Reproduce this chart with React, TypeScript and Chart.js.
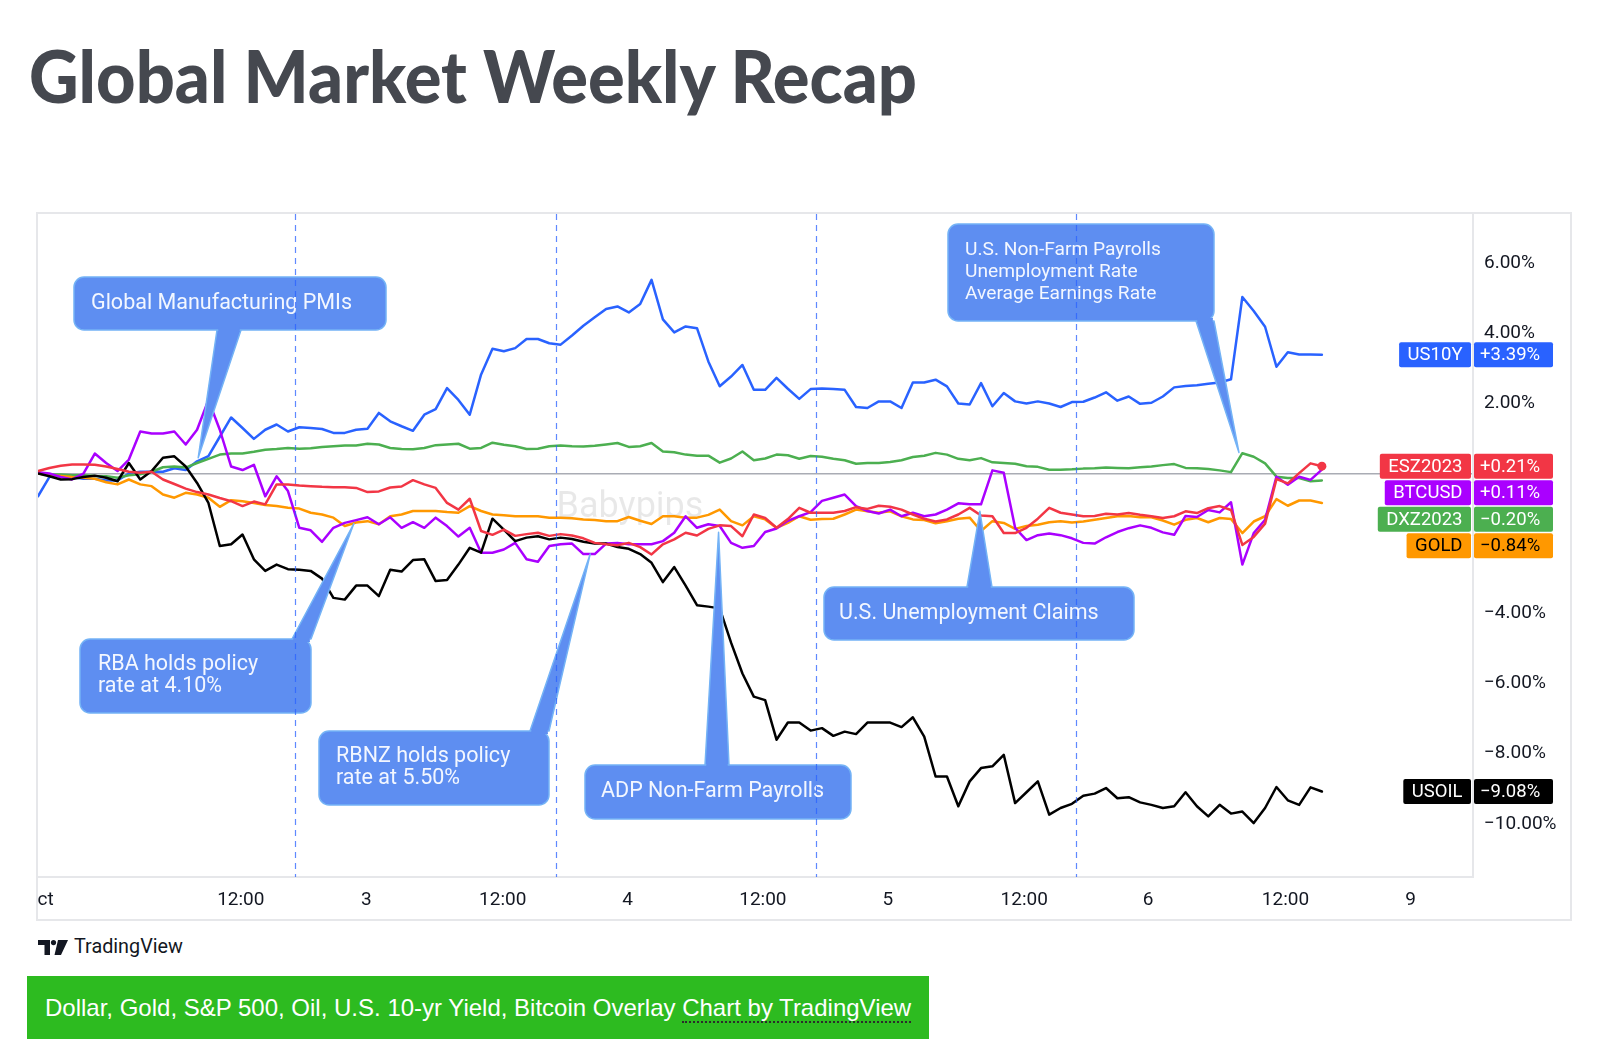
import React, { useEffect, useRef } from 'react';
import { Chart, registerables } from 'chart.js';

Chart.register(...registerables);

// ---------- DATA (percent change, one value per hourly bar) ----------
const us10y = [
  -0.65, -0.1, -0.05, -0.1, -0.15, -0.15, -0.2, -0.2, 0.0, 0.05,
  0.05, 0.05, 0.15, 0.1, 0.35, 0.5, 1.05, 1.6, 1.3, 0.99,
  1.25, 1.4, 1.2, 1.32, 1.3, 1.27, 1.16, 1.16, 1.25, 1.28,
  1.73, 1.49, 1.35, 1.22, 1.68, 1.84, 2.44, 2.1, 1.68, 2.83,
  3.56, 3.49, 3.58, 3.84, 3.84, 3.72, 3.68, 3.94, 4.22, 4.46,
  4.7, 4.77, 4.6, 4.84, 5.53, 4.4, 4.03, 4.2, 4.15, 3.2,
  2.49, 2.77, 3.1, 2.39, 2.39, 2.73, 2.42, 2.13, 2.41, 2.43,
  2.41, 2.39, 1.9, 1.87, 2.06, 2.06, 1.87, 2.6, 2.6, 2.68,
  2.49, 2.0, 1.97, 2.58, 1.92, 2.3, 2.06, 2.0, 2.06, 2.0,
  1.9, 2.04, 2.05, 2.17, 2.32, 2.08, 2.2, 1.99, 2.02, 2.2,
  2.46, 2.5, 2.52, 2.56, 2.6, 2.69, 5.04, 4.64, 4.19, 3.05,
  3.46, 3.4, 3.4, 3.39,
];
const dxz2023 = [
  0, -0.02, -0.03, -0.05, -0.05, -0.07, -0.08, -0.12, -0.05, -0.02,
  0.05, 0.18, 0.2, 0.17, 0.3, 0.42, 0.54, 0.57, 0.57, 0.62,
  0.68, 0.7, 0.73, 0.71, 0.72, 0.76, 0.78, 0.8, 0.8, 0.85,
  0.83, 0.73, 0.7, 0.69, 0.73, 0.81, 0.83, 0.85, 0.71, 0.73,
  0.88, 0.82, 0.78, 0.7, 0.71, 0.78, 0.8, 0.78, 0.77, 0.79,
  0.83, 0.87, 0.76, 0.78, 0.87, 0.63, 0.61, 0.54, 0.51, 0.51,
  0.31, 0.43, 0.63, 0.38, 0.43, 0.54, 0.52, 0.42, 0.5, 0.48,
  0.42, 0.38, 0.28, 0.3, 0.3, 0.33, 0.38, 0.47, 0.51, 0.59,
  0.54, 0.42, 0.38, 0.44, 0.32, 0.3, 0.28, 0.21, 0.19, 0.11,
  0.11, 0.12, 0.14, 0.15, 0.17, 0.16, 0.15, 0.18, 0.2, 0.24,
  0.27, 0.16, 0.15, 0.13, 0.09, 0.04, 0.58, 0.48, 0.29, -0.09,
  -0.13, -0.13, -0.22, -0.2,
];
const esz2023 = [
  0.07, 0.16, 0.22, 0.26, 0.26, 0.25, 0.2, 0.13, 0.05, 0.02,
  0.05, -0.17, -0.3, -0.43, -0.53, -0.6, -0.7, -0.79, -0.93, -0.8,
  -0.88, -0.31, -0.31, -0.34, -0.36, -0.38, -0.39, -0.39, -0.41, -0.53,
  -0.51, -0.4, -0.37, -0.19, -0.31, -0.41, -0.84, -1.03, -0.72, -1.64,
  -1.75, -1.6, -1.78, -1.73, -1.69, -1.78, -1.73, -1.77, -1.85, -1.98,
  -2.02, -2.05, -1.98, -2.1, -2.31, -2.02, -1.88, -1.69, -1.77, -1.58,
  -1.48, -1.5, -1.79, -1.17, -1.27, -1.55, -1.3, -0.98, -1.12, -1.12,
  -1.12, -1.07, -0.96, -1.01, -0.92, -0.95, -1.03, -1.17, -1.29, -1.37,
  -1.31, -1.17, -0.98, -1.2, -1.22, -1.7, -1.7, -1.55, -1.29, -0.98,
  -1.12, -1.17, -1.22, -1.21, -1.15, -1.17, -1.13, -1.18, -1.22, -1.27,
  -1.22, -1.08, -1.13, -0.99, -0.93, -1.04, -2.04, -1.81, -1.43, -0.16,
  -0.28, 0.01, 0.29, 0.21,
];
const gold = [
  0, -0.05, -0.07, -0.1, -0.12, -0.15, -0.25, -0.31, -0.17, -0.31,
  -0.36, -0.6, -0.69, -0.55, -0.6, -0.69, -0.95, -0.76, -0.79, -0.84,
  -0.9, -0.93, -0.98, -1.0, -1.12, -1.17, -1.26, -1.5, -1.4, -1.36,
  -1.45, -1.22, -1.17, -1.07, -1.07, -1.07, -1.1, -1.12, -0.93, -1.07,
  -1.17, -1.19, -1.22, -1.22, -1.22, -1.26, -1.26, -1.28, -1.31, -1.33,
  -1.36, -1.36, -1.24, -1.35, -1.44, -1.22, -1.22, -1.26, -1.26, -1.18,
  -1.03, -1.36, -1.48, -1.22, -1.31, -1.55, -1.41, -1.22, -1.32, -1.3,
  -1.29, -1.17, -1.03, -1.08, -1.12, -1.08, -1.22, -1.31, -1.33, -1.42,
  -1.36, -1.29, -1.26, -1.64, -1.36, -1.41, -1.58, -1.5, -1.46, -1.39,
  -1.36, -1.4, -1.37, -1.32, -1.27, -1.22, -1.21, -1.25, -1.25, -1.34,
  -1.46, -1.32, -1.27, -1.39, -1.27, -1.3, -1.7, -1.37, -1.22, -0.73,
  -0.92, -0.77, -0.77, -0.84,
];
const btcusd = [
  0.04, 0, -0.1, -0.17, 0.0, 0.57, 0.3, 0.07, 0.4, 1.2,
  1.14, 1.14, 1.2, 0.83, 1.25, 2.1, 1.25, 0.2, 0.1, 0.25,
  -0.65, -0.08, -0.5, -1.55, -1.62, -1.95, -1.55, -1.41, -1.33, -1.25,
  -1.45, -1.25, -1.55, -1.39, -1.55, -1.26, -1.5, -1.8, -1.55, -2.26,
  -2.26, -2.17, -1.98, -2.45, -2.52, -2.07, -2.02, -2.0, -2.3, -2.3,
  -2.0, -1.98, -2.02, -2.02, -2.02, -1.93, -1.69, -1.22, -1.55, -1.45,
  -1.5, -1.98, -2.12, -2.07, -1.67, -1.57, -1.35, -1.22, -1.1, -0.78,
  -0.69, -0.6, -0.93, -1.07, -1.14, -1.03, -1.22, -1.12, -1.22, -1.17,
  -1.03, -0.85, -0.88, -0.88, 0.09, 0.02, -1.55, -1.9, -1.76, -1.71,
  -1.76, -1.85, -1.98, -2.0, -1.82, -1.67, -1.56, -1.48, -1.55, -1.68,
  -1.75, -1.21, -1.24, -1.04, -1.11, -0.82, -2.6, -1.7, -1.32, -0.09,
  -0.32, -0.09, -0.18, 0.11,
];
const usoil = [
  0, -0.08, -0.17, -0.16, -0.1, -0.06, -0.12, -0.22, 0.3, -0.17,
  0.07, 0.45, 0.49, 0.2, -0.27, -0.84, -2.07, -2.02, -1.74, -2.45,
  -2.78, -2.6, -2.73, -2.75, -2.78, -3.0, -3.55, -3.6, -3.2, -3.2,
  -3.5, -2.75, -2.8, -2.47, -2.45, -3.07, -3.04, -2.6, -2.12, -2.26,
  -1.29, -1.6, -1.93, -1.83, -1.79, -1.88, -1.83, -1.87, -1.95, -2.0,
  -2.0, -2.1, -2.15, -2.3, -2.55, -3.1, -2.67, -3.2, -3.76, -3.8,
  -3.85, -4.83, -5.71, -6.37, -6.47, -7.6, -7.11, -7.11, -7.34, -7.27,
  -7.49, -7.37, -7.44, -7.11, -7.11, -7.11, -7.24, -6.96, -7.51, -8.65,
  -8.65, -9.5, -8.79, -8.41, -8.36, -8.03, -9.41, -9.1, -8.79, -9.74,
  -9.55, -9.43, -9.2, -9.14, -8.98, -9.27, -9.24, -9.39, -9.46, -9.55,
  -9.5, -9.1, -9.5, -9.79, -9.46, -9.71, -9.65, -9.98, -9.55, -8.95,
  -9.33, -9.46, -8.96, -9.08,
];

// x-axis ticks (bar-index positions) and their labels
const xTickPositions = [0.1, 17.85, 28.9, 40.9, 51.9, 63.8, 74.8, 86.8, 97.7, 109.8, 120.8];
const xTickLabels = ['Oct', '12:00', '3', '12:00', '4', '12:00', '5', '12:00', '6', '12:00', '9'];
// y-axis tick values (%)
const yTickValues = [-10, -8, -6, -4, -2, 0, 2, 4, 6];
// dashed event markers (bar-index positions)
const eventLines = [22.6, 45.6, 68.5, 91.4];

const seriesNames = ['ESZ2023', 'USOIL', 'BTCUSD', 'GOLD', 'DXZ2023', 'US10Y'];
const seriesValues = [esz2023, usoil, btcusd, gold, dxz2023, us10y];
const seriesColors = ['#f23645', '#000000', '#aa00ff', '#ff9800', '#4caf50', '#2962ff'];
const seriesTextColors = ['#ffffff', '#ffffff', '#ffffff', '#000000', '#ffffff', '#ffffff'];

// ---------- STYLE / LAYOUT ----------
const FONT = 'Roboto, "Noto Sans", sans-serif';
const OFFX = 30; // canvas offset on page
const OFFY = 205;
const CW = 1550;
const CH = 725;

const callouts = [
  { lines: ['Global Manufacturing PMIs'], box: [74, 277, 386, 330], base: [217, 241], tip: [14.1, 0.45], textX: 91, size: 21.5, lh: 22 },
  { lines: ['RBA holds policy', 'rate at 4.10%'], box: [80, 639, 311, 713], base: [292, 311], tip: [27.8, -1.43], textX: 98, size: 21.5, lh: 22 },
  { lines: ['RBNZ holds policy', 'rate at 5.50%'], box: [319, 731, 549, 805], base: [530, 549], tip: [48.6, -2.3], textX: 336, size: 21.5, lh: 22 },
  { lines: ['ADP Non-Farm Payrolls'], box: [585, 765, 851, 819], base: [705, 729], tip: [59.9, -1.68], textX: 601, size: 21.5, lh: 22 },
  { lines: ['U.S. Unemployment Claims'], box: [824, 587, 1134, 640], base: [967, 992], tip: [82.9, -1.08], textX: 839, size: 21.5, lh: 22 },
  { lines: ['U.S. Non-Farm Payrolls', 'Unemployment Rate', 'Average Earnings Rate'], box: [948, 224, 1214, 321], base: [1196, 1214], tip: [105.7, 0.6], textX: 965, size: 19.2, lh: 22 },
];

function rr(ctx: CanvasRenderingContext2D, x: number, y: number, w: number, h: number, r: number) {
  ctx.beginPath();
  ctx.moveTo(x + r, y);
  ctx.lineTo(x + w - r, y);
  ctx.arcTo(x + w, y, x + w, y + r, r);
  ctx.lineTo(x + w, y + h - r);
  ctx.arcTo(x + w, y + h, x + w - r, y + h, r);
  ctx.lineTo(x + r, y + h);
  ctx.arcTo(x, y + h, x, y + h - r, r);
  ctx.lineTo(x, y + r);
  ctx.arcTo(x, y, x + r, y, r);
  ctx.closePath();
}

function fmtPct(v: number) {
  const s = Math.abs(v).toFixed(2) + '%';
  return (v >= 0 ? '+' : '\u2212') + s;
}

const overlayPlugin = {
  id: 'overlay',
  beforeDatasetsDraw(chart: any) {
    const ctx = chart.ctx as CanvasRenderingContext2D;
    ctx.save();
    ctx.font = `36px ${FONT}`;
    ctx.fillStyle = 'rgba(0,0,0,0.09)';
    ctx.textAlign = 'center';
    ctx.textBaseline = 'middle';
    ctx.fillText('Babypips', 630 - OFFX, 508 - OFFY);
    ctx.restore();
  },
  afterDatasetsDraw(chart: any) {
    const ctx = chart.ctx as CanvasRenderingContext2D;
    const xs = chart.scales.x;
    const ys = chart.scales.y;
    const area = chart.chartArea;
    const FILL = '#5e8ef1';
    const EDGE = '#74b3f6';
    for (const c of callouts) {
      const x1 = c.box[0] - OFFX, y1 = c.box[1] - OFFY, x2 = c.box[2] - OFFX, y2 = c.box[3] - OFFY;
      const tx = xs.getPixelForValue(c.tip[0]);
      const ty = ys.getPixelForValue(c.tip[1]);
      const by = ty < y1 ? y1 : y2;
      const b1 = c.base[0] - OFFX, b2 = c.base[1] - OFFX;
      ctx.save();
      ctx.fillStyle = FILL;
      ctx.strokeStyle = EDGE;
      ctx.lineWidth = 1.5;
      ctx.lineJoin = 'round';
      ctx.beginPath();
      ctx.moveTo(b1, by);
      ctx.lineTo(tx, ty);
      ctx.lineTo(b2, by);
      ctx.closePath();
      ctx.fill();
      ctx.stroke();
      rr(ctx, x1, y1, x2 - x1, y2 - y1, 10);
      ctx.fill();
      ctx.stroke();
      // merge pointer and box
      ctx.beginPath();
      const d = by === y1 ? -1 : 1;
      ctx.moveTo(b1 + 1, by - d * 3);
      ctx.lineTo(b2 - 1, by - d * 3);
      ctx.lineTo(b2 - 1 - 0.5, by + d * 2);
      ctx.lineTo(b1 + 1 + 0.5, by + d * 2);
      ctx.closePath();
      ctx.fill();
      ctx.fillStyle = '#f3f7ff';
      ctx.font = `${c.size}px ${FONT}`;
      ctx.textAlign = 'left';
      ctx.textBaseline = 'middle';
      const cy = (y1 + y2) / 2;
      const n = c.lines.length;
      c.lines.forEach((ln, k) => {
        ctx.fillText(ln, c.textX - OFFX, cy + (k - (n - 1) / 2) * c.lh);
      });
      ctx.restore();
    }
    // dashed event lines
    ctx.save();
    ctx.strokeStyle = 'rgba(41,98,255,0.75)';
    ctx.lineWidth = 1.2;
    ctx.setLineDash([6, 5]);
    for (const v of eventLines) {
      const x = Math.round(xs.getPixelForValue(v)) + 0.5;
      ctx.beginPath();
      ctx.moveTo(x, area.top);
      ctx.lineTo(x, area.bottom);
      ctx.stroke();
    }
    ctx.restore();
  },
  afterDraw(chart: any) {
    const ctx = chart.ctx as CanvasRenderingContext2D;
    const ys = chart.scales.y;
    // clip the first x label at the frame edge
    ctx.save();
    ctx.fillStyle = '#ffffff';
    ctx.fillRect(0, 0, 37 - OFFX, CH);
    // frame
    ctx.strokeStyle = '#e6e7ea';
    ctx.lineWidth = 2;
    ctx.strokeRect(37 - OFFX, 213 - OFFY, 1571 - 37, 920 - 213);
    ctx.restore();

    // series last-value labels
    const items = seriesNames.map((name, k) => ({
      name,
      last: seriesValues[k][seriesValues[k].length - 1],
      color: seriesColors[k],
      text: seriesTextColors[k],
    })).sort((a, b) => b.last - a.last);
    const H = 25;
    const PITCH = 26.5;
    let prev = -Infinity;
    ctx.save();
    ctx.font = `18.5px ${FONT}`;
    ctx.textBaseline = 'middle';
    for (const it of items) {
      let y = ys.getPixelForValue(it.last);
      if (y < prev + PITCH) y = prev + PITCH;
      prev = y;
      const vx1 = 1474 - OFFX, vx2 = 1553 - OFFX, nr = 1471 - OFFX;
      ctx.fillStyle = it.color;
      rr(ctx, vx1, y - H / 2, vx2 - vx1, H, 2);
      ctx.fill();
      const tw = ctx.measureText(it.name).width;
      const nw = tw + 17;
      rr(ctx, nr - nw, y - H / 2, nw, H, 2);
      ctx.fill();
      ctx.fillStyle = it.text;
      ctx.textAlign = 'right';
      ctx.fillText(it.name, nr - 8.5, y + 1);
      ctx.textAlign = 'left';
      ctx.fillText(fmtPct(it.last), 1480 - OFFX, y + 1);
    }
    ctx.restore();
  },
};

function TVLogo() {
  return (
    <svg width="30" height="15" viewBox="0 0 30 15" style={{ position: 'absolute', left: 38, top: 940 }}>
      <path d="M0 0 H12 V15 H6.5 V5 H0 Z" fill="#131722" />
      <circle cx="15.5" cy="2.6" r="2.6" fill="#131722" />
      <path d="M20 0 H30 L23 15 H16.5 Z" fill="#131722" />
    </svg>
  );
}

export default function App() {
  const ref = useRef<HTMLCanvasElement | null>(null);

  useEffect(() => {
    if (!ref.current) return;
    const datasets = seriesNames.map((name, k) => {
      const vals = seriesValues[k];
      const last = vals.length - 1;
      return {
        label: name,
        data: vals.map((v, i) => ({ x: i, y: v })),
        borderColor: seriesColors[k],
        backgroundColor: seriesColors[k],
        borderWidth: 2.5,
        tension: 0,
        borderJoinStyle: 'round' as const,
        borderCapStyle: 'round' as const,
        pointRadius: name === 'ESZ2023' ? vals.map((_, i) => (i === last ? 4.5 : 0)) : 0,
        pointBorderWidth: 0,
        pointBackgroundColor: seriesColors[k],
        fill: false,
      };
    });

    const chart = new Chart(ref.current, {
      type: 'line',
      data: { datasets },
      plugins: [overlayPlugin],
      options: {
        responsive: false,
        maintainAspectRatio: false,
        animation: false,
        devicePixelRatio: 1,
        parsing: false as any,
        layout: { padding: { left: 8, top: 9, right: 9, bottom: 10 } },
        plugins: { legend: { display: false }, tooltip: { enabled: false } },
        scales: {
          x: {
            type: 'linear',
            min: 0,
            max: 126.3,
            grid: { display: false, drawTicks: false },
            border: { display: true, color: '#e6e7ea', width: 2 },
            afterBuildTicks: (s: any) => {
              s.ticks = xTickPositions.map((v) => ({ value: v }));
            },
            afterFit: (s: any) => {
              s.height = 43;
              s.paddingLeft = 0;
              s.paddingRight = 0;
            },
            ticks: {
              autoSkip: false,
              maxRotation: 0,
              minRotation: 0,
              padding: 12,
              color: '#131722',
              font: { family: FONT, size: 19 },
              callback: (_v: any, i: number) => xTickLabels[i] ?? '',
            },
          },
          y: {
            type: 'linear',
            position: 'right',
            min: -11.52,
            max: 7.41,
            border: { display: true, color: '#e6e7ea', width: 2 },
            grid: {
              drawTicks: false,
              color: (c: any) => (c.tick && c.tick.value === 0 ? '#a9acb4' : 'rgba(0,0,0,0)'),
              lineWidth: 1.5,
            },
            afterBuildTicks: (s: any) => {
              s.ticks = yTickValues.map((v) => ({ value: v }));
            },
            afterFit: (s: any) => {
              s.width = 98;
              s.paddingTop = 0;
              s.paddingBottom = 0;
            },
            ticks: {
              padding: 11,
              color: '#131722',
              font: { family: FONT, size: 19 },
              callback: (v: any) => {
                const n = Number(v);
                return (n < 0 ? '\u2212' : '') + Math.abs(n).toFixed(2) + '%';
              },
            },
          },
        },
      } as any,
    });
    return () => chart.destroy();
  }, []);

  return (
    <div style={{ position: 'absolute', left: 0, top: 0, width: 1615, height: 1056, background: '#ffffff', overflow: 'hidden' }}>
      <svg width="1615" height="130" style={{ position: 'absolute', left: 0, top: 0 }}>
        <text x="29" y="103" fontFamily="Lato, 'Open Sans', sans-serif" fontWeight="900" fontSize="72" fill="#45484f" textLength="888" lengthAdjust="spacingAndGlyphs">
          Global Market Weekly Recap
        </text>
      </svg>
      <canvas ref={ref} width={CW} height={CH} style={{ position: 'absolute', left: OFFX, top: OFFY, width: CW, height: CH }} />
      <TVLogo />
      <div style={{ position: 'absolute', left: 74, top: 935, fontFamily: FONT, fontSize: 19.8, color: '#131722', lineHeight: '24px' }}>
        TradingView
      </div>
      <div style={{ position: 'absolute', left: 27, top: 976, width: 902, height: 63, background: '#2dbb20', display: 'flex', alignItems: 'center' }}>
        <span style={{ marginLeft: 18, fontFamily: '"Liberation Sans", Arial, sans-serif', fontSize: 24, color: '#ffffff', whiteSpace: 'nowrap' }}>
          Dollar, Gold, S&amp;P 500, Oil, U.S. 10-yr Yield, Bitcoin Overlay{' '}
          <span style={{ borderBottom: '2px dotted #2b2b2b' }}>Chart by TradingView</span>
        </span>
      </div>
    </div>
  );
}
